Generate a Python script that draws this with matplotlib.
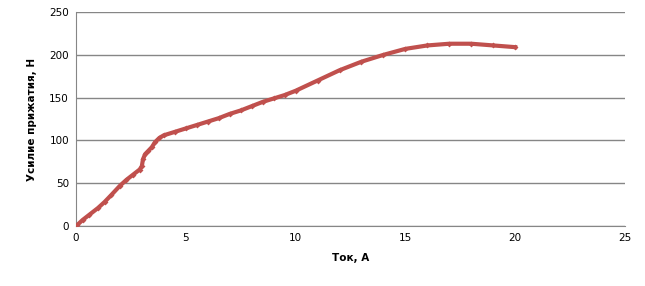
import matplotlib
matplotlib.use("Agg")
import matplotlib.pyplot as plt

# Ток, А
current = [0.05, 0.3, 0.6, 1.0, 1.3, 1.6, 2.0, 2.3, 2.6, 2.9, 3.0, 3.05, 3.15,
           3.3, 3.45, 3.6, 3.8, 4.0, 4.5, 5.0, 5.5, 6.0, 6.5, 7.0, 7.5, 8.0,
           8.5, 9.0, 9.5, 10.0, 11.0, 12.0, 13.0, 14.0, 15.0, 16.0, 17.0,
           18.0, 19.0, 20.0]
# Усилие прижатия, Н
force = [1, 7, 13, 21, 28, 36, 47, 54, 60, 66, 70, 78, 84,
         88, 92, 98, 103, 106, 110, 114, 118, 122, 126, 131, 135, 140,
         145, 149, 153, 158, 170, 182, 192, 200, 207, 211, 213,
         213, 211, 209]

x_ticks = [0, 5, 10, 15, 20, 25]
y_ticks = [0, 50, 100, 150, 200, 250]

plt.rcParams['font.family'] = ['DejaVu Sans']

fig = plt.figure(figsize=(6.45, 2.86), dpi=100)
ax = fig.add_axes([0.1178, 0.2098, 0.8512, 0.748])

ax.plot(current, force, color='#C0504D', linewidth=3, marker='D',
        markersize=3, markeredgewidth=0, zorder=3)

ax.set_xlim(0, 25)
ax.set_ylim(0, 250)
ax.set_xticks(x_ticks)
ax.set_yticks(y_ticks)
ax.yaxis.grid(True, color='#868686', linewidth=1)
ax.set_axisbelow(True)

for side in ['top', 'right']:
    ax.spines[side].set_visible(False)
ax.spines['left'].set_color('#868686')
ax.spines['bottom'].set_color('#868686')
ax.tick_params(length=0, labelsize=7.5, colors='black', pad=5)

ax.set_xlabel('Ток, А', fontsize=7.5, fontweight='bold', labelpad=7)
ax.set_ylabel('Усилие прижатия, Н', fontsize=7.5, fontweight='bold', labelpad=9)

fig.savefig('out.png', dpi=100)
